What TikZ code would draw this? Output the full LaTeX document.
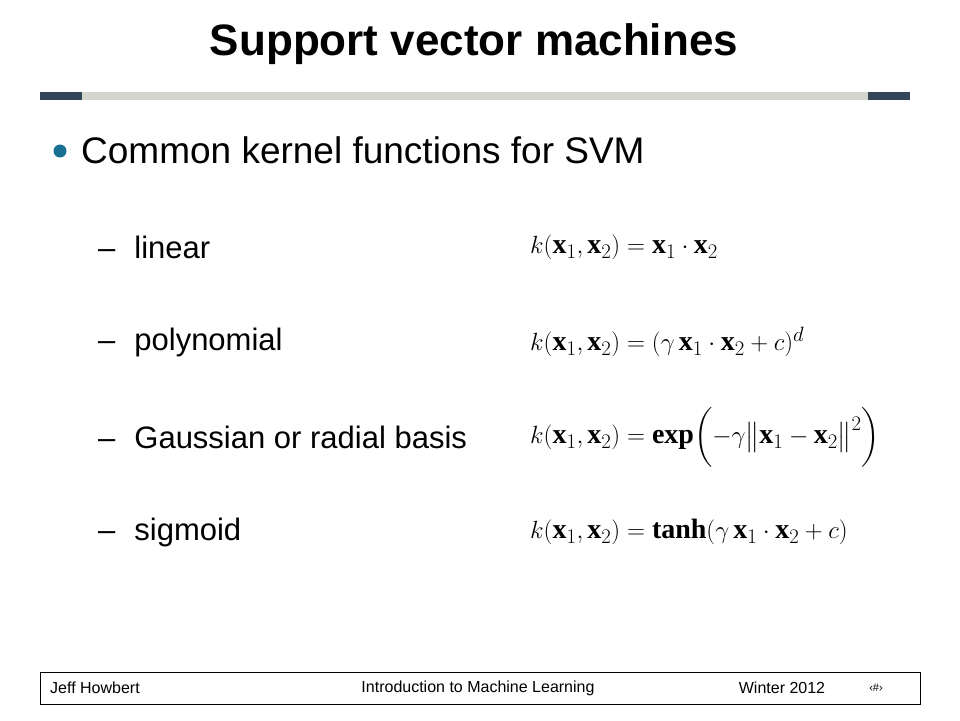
\documentclass[tikz,border=0pt]{standalone}
\usepackage{amsmath}
\usepackage{fontspec}
\setmainfont{Liberation Sans}
\setmathrm{Liberation Serif}
\definecolor{navy}{HTML}{34465A}
\definecolor{barg}{HTML}{D4D4CE}
\definecolor{bul}{HTML}{1A7090}
\tikzset{item/.style={anchor=west,inner sep=0,font=\fontsize{31}{34}\selectfont},
 frm/.style={anchor=west,inner sep=0,font=\fontsize{28}{32}\selectfont},
 foot/.style={inner sep=0,font=\fontsize{16}{18}\selectfont}}
\begin{document}
\begin{tikzpicture}[x=1pt,y=-1pt]
\useasboundingbox (0,0) rectangle (960,720);
\node[inner sep=0,font=\fontsize{44}{48}\selectfont\bfseries] (title) at (474,44) {Support vector machines};
\fill[barg] (40,92) rectangle (910,100);
\fill[navy] (40,92) rectangle (82,100);
\fill[navy] (868,92) rectangle (910,100);
\fill[bul] (60,151) circle (6.5);
\node[anchor=west,inner sep=0,font=\fontsize{37}{40}\selectfont] (head) at (81,150) {Common kernel functions for SVM};
\node[item] (l1) at (98,247) {--\hspace{19pt}linear};
\node[item] (l2) at (98,342) {--\hspace{19pt}polynomial};
\node[item] (l3) at (98,437) {--\hspace{19pt}Gaussian or radial basis};
\node[item] (l4) at (98,532) {--\hspace{19pt}sigmoid};
\node[frm] (f1) at (530,247) {$k(\mathbf{x}_1,\mathbf{x}_2)=\mathbf{x}_1\cdot\mathbf{x}_2$};
\node[frm] (f2) at (530,342) {$k(\mathbf{x}_1,\mathbf{x}_2)=(\gamma\,\mathbf{x}_1\cdot\mathbf{x}_2+c)^d$};
\node[frm] (f3) at (530,437) {$k(\mathbf{x}_1,\mathbf{x}_2)=\mathbf{exp}\biggl(-\gamma\bigl\|\mathbf{x}_1-\mathbf{x}_2\bigr\|^2\biggr)$};
\node[frm] (f4) at (530,532) {$k(\mathbf{x}_1,\mathbf{x}_2)=\mathbf{tanh}(\gamma\,\mathbf{x}_1\cdot\mathbf{x}_2+c)$};
\draw[line width=0.8pt] (40,672) rectangle (920,704);
\node[foot,anchor=west] (a) at (50,688) {Jeff Howbert};
\node[foot] (b) at (478,688) {Introduction to Machine Learning};
\node[foot] (c) at (782,688) {Winter 2012};
\node[foot] (d) at (876,688) {\fontsize{11}{12}\selectfont‹\#›};
\end{tikzpicture}
\end{document}
